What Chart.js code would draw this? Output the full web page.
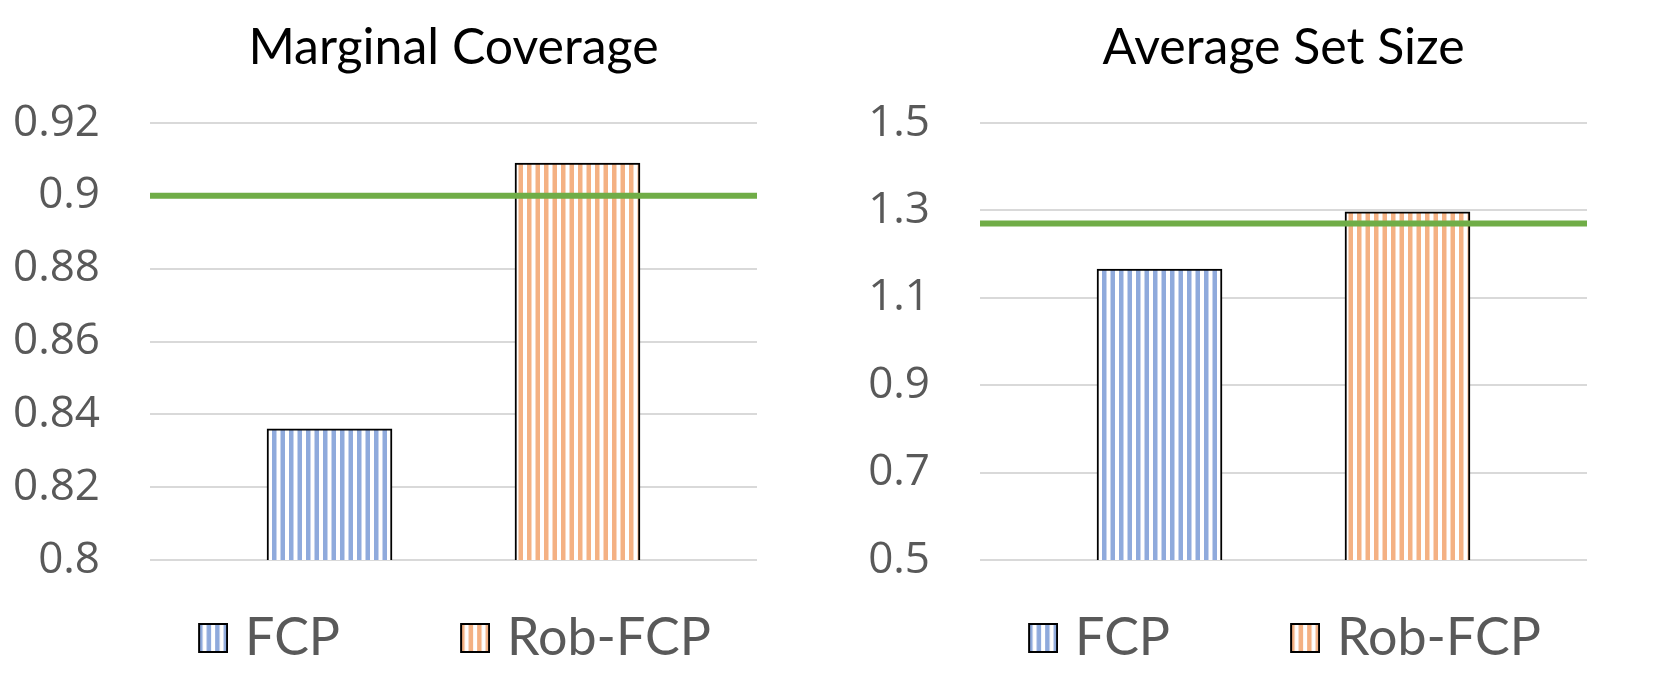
<!DOCTYPE html>
<html>
<head>
<meta charset="utf-8">
<script src="https://cdn.jsdelivr.net/npm/chart.js@4"></script>
<style>
  html, body { margin: 0; padding: 0; background: #fff; }
  #wrap { display: flex; width: 1661px; height: 684px; }
  .cell { width: 830px; height: 684px; }
</style>
</head>
<body>
<div id="wrap">
  <div class="cell"><canvas id="coverage" width="830" height="684"></canvas></div>
  <div class="cell"><canvas id="setsize" width="830" height="684"></canvas></div>
</div>
<script>
// data
const seriesNames     = ['FCP', 'Rob-FCP'];
const coverageValues  = [0.836, 0.909];
const coverageTarget  = 0.9;
const coverageTicks   = { min: 0.8, max: 0.92, step: 0.02 };
const setSizeValues   = [1.166, 1.297];
const setSizeTarget   = 1.27;
const setSizeTicks    = { min: 0.5, max: 1.5, step: 0.2 };

const seriesColors = ['#8FAADC', '#F4B183'];
const targetColor  = '#70AD47';

// bars sit at x = 0 and x = 1 on a linear axis, with room on each side
const xMin = -0.724;
const xMax = 1.724;

const legendFont = { family: 'Lato', size: 52 };
const legendPad  = 10;

function stripeCanvas(color) {
  const c = document.createElement('canvas');
  c.width = 17;
  c.height = 4;
  const g = c.getContext('2d');
  g.fillStyle = '#fff';
  g.fillRect(0, 0, 17, 4);
  g.fillStyle = color;
  g.fillRect(0, 0, 4.5, 4);
  g.fillRect(8.5, 0, 4.5, 4);
  return c;
}

function stripes(color) {
  return document.createElement('canvas').getContext('2d')
    .createPattern(stripeCanvas(color), 'repeat');
}

// legend marker: transparent lead-in, striped box at the right end
function legendMarker(color, width) {
  const c = document.createElement('canvas');
  c.width = width;
  c.height = 30;
  const g = c.getContext('2d');
  const bx = width - 30;
  g.fillStyle = g.createPattern(stripeCanvas(color), 'repeat');
  g.fillRect(bx + 1, 1, 28, 28);
  g.strokeStyle = '#000';
  g.lineWidth = 2;
  g.strokeRect(bx + 1, 1, 28, 28);
  return c;
}

// legend spacing like the reference: boxes at x=199 and x=461, plot 150..757
const mctx = document.createElement('canvas').getContext('2d');
mctx.font = legendFont.size + 'px ' + legendFont.family;
const w1 = mctx.measureText(seriesNames[0]).width;
const w2 = mctx.measureText(seriesNames[1]).width;
const pointW = Math.round(236 - w1 - legendPad);
const lineW = (pointW + 26 + w1 + legendPad) + (pointW + 26 + w2 + legendPad);
const legendRight = Math.round(2 * (w1 + legendPad - 17) - legendPad + lineW);
const plotRight = 757;
const rightGap = Math.max(0, legendRight - plotRight);

function drawChart(id, title, values, target, ticks, decimals) {
  const datasets = seriesNames.map((name, i) => ({
    label: name,
    data: [{ x: i, y: values[i] }],
    backgroundColor: stripes(seriesColors[i]),
    borderColor: '#000',
    borderWidth: 2,
    borderSkipped: false,
    barThickness: 125,
    grouped: false,
    order: 1
  }));
  datasets.push({
    type: 'line',
    label: 'target',
    data: [{ x: xMin, y: target }, { x: xMax, y: target }],
    borderColor: targetColor,
    borderWidth: 6,
    borderCapStyle: 'butt',
    pointRadius: 0,
    order: 0
  });

  return new Chart(document.getElementById(id).getContext('2d'), {
    type: 'bar',
    data: { datasets },
    options: {
      responsive: false,
      animation: false,
      devicePixelRatio: 1,
      layout: { padding: { left: 0, right: 830 - plotRight - rightGap, top: 0, bottom: 10 } },
      plugins: {
        tooltip: { enabled: false },
        title: {
          display: true,
          fullSize: false,
          text: title,
          color: '#000',
          font: { family: 'Lato', size: 50, weight: 'normal' },
          padding: { top: 18, bottom: 45 }
        },
        legend: {
          display: true,
          position: 'bottom',
          align: 'center',
          labels: {
            color: '#595959',
            font: legendFont,
            usePointStyle: true,
            pointStyleWidth: pointW,
            boxHeight: 30,
            padding: legendPad,
            generateLabels: chart => seriesNames.map((name, i) => ({
              text: name,
              pointStyle: legendMarker(seriesColors[i], pointW + 18),
              fillStyle: seriesColors[i],
              strokeStyle: '#000',
              lineWidth: 0,
              datasetIndex: i,
              fontColor: '#595959'
            }))
          }
        }
      },
      scales: {
        x: {
          type: 'linear',
          display: true,
          offset: false,
          min: xMin,
          max: xMax,
          grid: { display: false, offset: false },
          border: { display: false },
          ticks: { display: false },
          afterFit: s => { s.height = 42; }
        },
        y: {
          min: ticks.min,
          max: ticks.max,
          border: { display: false },
          grid: { color: '#D9D9D9', lineWidth: 2, drawTicks: false },
          afterFit: s => { s.width = 150; },
          ticks: {
            stepSize: ticks.step,
            autoSkip: false,
            padding: 50,
            color: '#595959',
            font: { family: 'Open Sans', size: 44 },
            callback: v => String(Number(v.toFixed(decimals)))
          }
        },
        yr: {
          type: 'linear',
          position: 'right',
          display: rightGap > 0,
          grid: { display: false },
          border: { display: false },
          ticks: { display: false },
          afterFit: s => { s.width = rightGap; }
        }
      }
    }
  });
}

drawChart('coverage', 'Marginal Coverage', coverageValues, coverageTarget, coverageTicks, 2);
drawChart('setsize', 'Average Set Size', setSizeValues, setSizeTarget, setSizeTicks, 1);
</script>
</body>
</html>
